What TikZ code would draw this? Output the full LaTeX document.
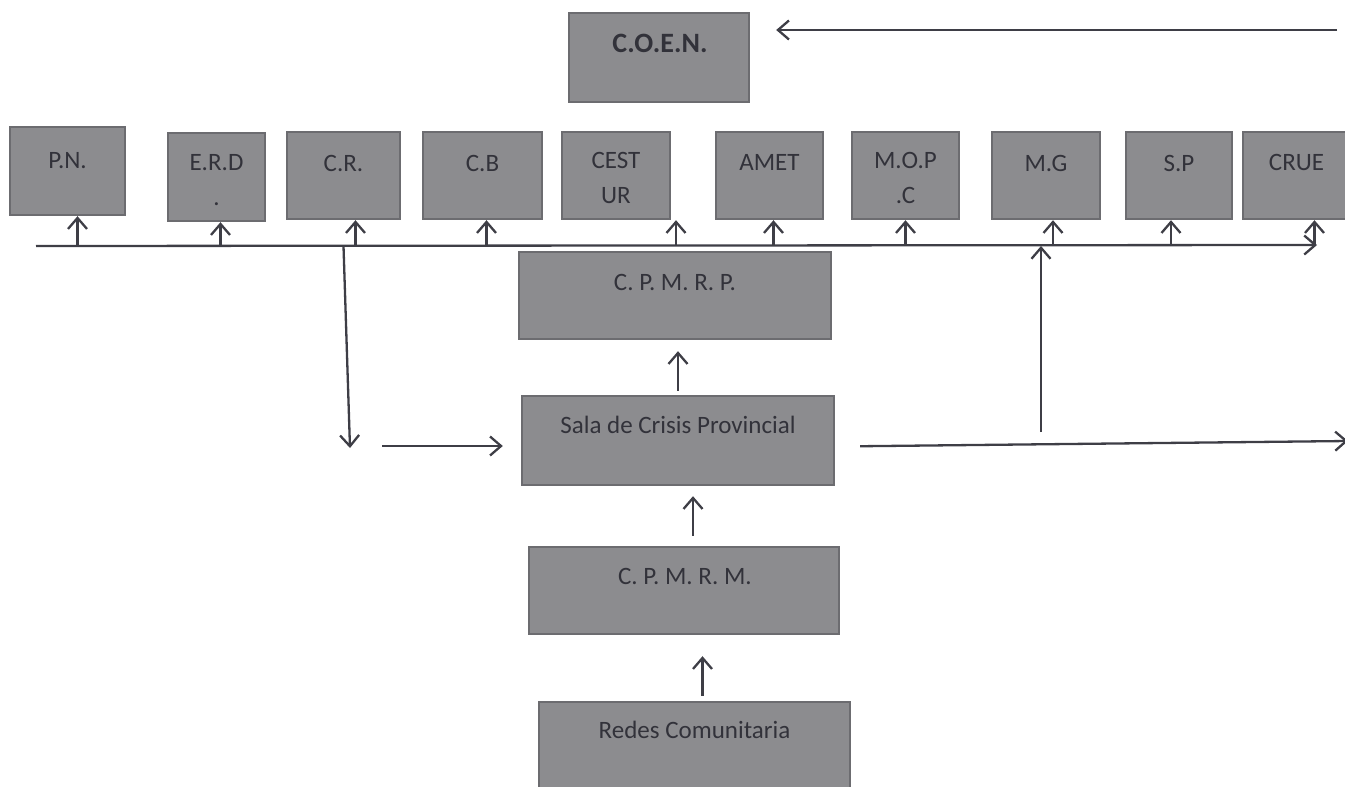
\documentclass[tikz,border=0pt]{standalone}
\usepackage{fontspec}
\setmainfont{Carlito}
\usetikzlibrary{arrows.meta}
\definecolor{boxgray}{RGB}{140,140,143}
\definecolor{edgegray}{RGB}{108,108,112}
\definecolor{inkgray}{RGB}{50,50,58}
\definecolor{linegray}{RGB}{62,62,70}
\tikzset{
  unit/.style={draw=edgegray, fill=boxgray, line width=2.4pt, inner sep=0pt, minimum height=87pt},
  lbl/.style={anchor=base, inner sep=0pt, text=inkgray, font=\fontsize{25}{30}\selectfont},
  arr/.style={draw=linegray, line width=2.3pt, -{Straight Barb[length=11pt,width=19pt]}},
}

\begin{document}
\begin{tikzpicture}[x=1pt, y=-1pt]
  \useasboundingbox (0,0) rectangle (1345,787);
  % top
  \node[unit, minimum width=180pt, minimum height=89pt] (coen) at (659,57.5) {};
  \node[lbl, font=\fontsize{28}{34}\selectfont\bfseries] at (660,52) {C.O.E.N.};
  % row of institutions
  \node[unit, minimum width=115pt, minimum height=88pt] (pn) at (67.5,171) {};
  \node[unit, minimum width=97pt, minimum height=88pt] (erd) at (216.5,177) {};
  \node[unit, minimum width=113pt] (cr) at (343.5,175.5) {};
  \node[unit, minimum width=119pt] (cb) at (482.5,175.5) {};
  \node[unit, minimum width=108pt] (cest) at (616,175.5) {};
  \node[unit, minimum width=107pt] (amet) at (769.5,175.5) {};
  \node[unit, minimum width=107pt] (mopc) at (905.5,175.5) {};
  \node[unit, minimum width=108pt] (mg) at (1046,175.5) {};
  \node[unit, minimum width=106pt] (sp) at (1179,175.5) {};
  \node[unit, minimum width=107pt] (crue) at (1296.5,175.5) {};
  \node[lbl] at (67.5,168) {P.N.};
  \node[lbl] at (216.5,170) {E.R.D};
  \node[lbl] at (216.5,205) {.};
  \node[lbl] at (343.5,171) {C.R.};
  \node[lbl] at (482.5,171) {C.B};
  \node[lbl] at (616,168) {CEST};
  \node[lbl] at (616,203) {UR};
  \node[lbl] at (769.5,170) {AMET};
  \node[lbl] at (905.5,168) {M.O.P};
  \node[lbl] at (905.5,203) {.C};
  \node[lbl] at (1046,171) {M.G};
  \node[lbl] at (1179,171) {S.P};
  \node[lbl] at (1296.5,170) {CRUE};
  % central column
  \node[unit, minimum width=312pt] (cpmrp) at (675,295.5) {};
  \node[unit, minimum width=312pt, minimum height=89pt] (sala) at (678,440.5) {};
  \node[unit, minimum width=310pt] (cpmrm) at (684,590.5) {};
  \node[unit, minimum width=311pt, minimum height=93pt] (redes) at (694.5,748.5) {};
  \node[lbl] at (675,290) {C. P. M. R. P.};
  \node[lbl] at (678,433) {Sala de Crisis Provincial};
  \node[lbl] at (685,584) {C. P. M. R. M.};
  \node[lbl] at (694.5,738) {Redes Comunitaria};
  % connectors
  \coordinate (coenin) at (1337,30);
  \draw[arr, shorten >=26pt] (coenin) -- (coenin -| coen.east);
  \coordinate (bus) at (36,246);
  \coordinate (busend) at (1317,245);
  \draw[arr] (bus) -- (busend);
  \foreach \b/\dx in {pn/10,erd/4,cr/12,cb/4,cest/60,amet/4,mopc/0,mg/7,sp/-8,crue/18}{
    \coordinate (t) at ([xshift=\dx pt]\b.south);
    \draw[arr] (t |- bus) -- (t);
  }
  \coordinate (crdrop) at (350,448);
  \draw[arr] (cr.south |- bus) -- (crdrop);
  \coordinate (salain) at (382,446);
  \draw[arr, shorten >=18pt] (salain) -- (salain -| sala.west);
  \draw[arr, shorten <=4pt, shorten >=11pt] (sala.north) -- (cpmrp.south -| sala.north);
  \coordinate (s2) at ([xshift=9pt]cpmrm.north);
  \draw[arr, shorten <=10pt, shorten >=10pt] (s2) -- (s2 |- sala.south);
  \coordinate (s3) at ([xshift=8pt]redes.north);
  \draw[arr, shorten <=5pt, shorten >=21pt] (s3) -- (s3 |- cpmrm.south);
  \coordinate (salaout) at (1348,441);
  \draw[arr, shorten <=25pt] ([yshift=-6pt]sala.east) -- (salaout);
  \coordinate (mgrise) at (1041,432);
  \draw[arr] (mgrise) -- (mgrise |- bus);
\end{tikzpicture}
\end{document}
